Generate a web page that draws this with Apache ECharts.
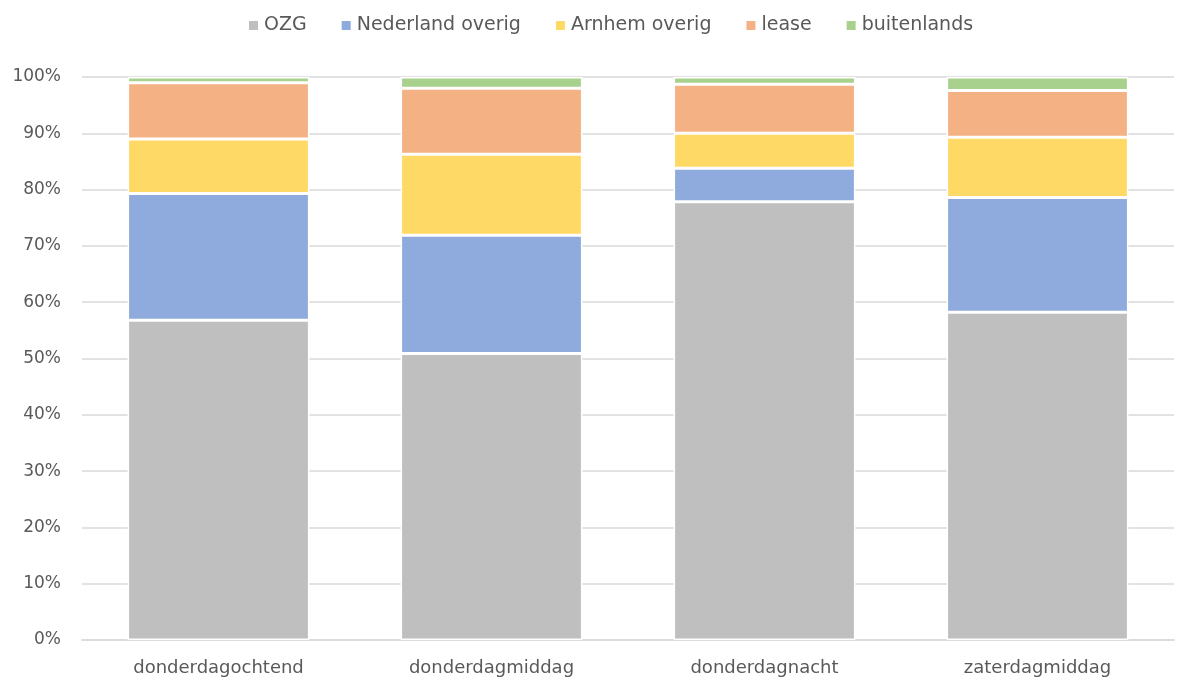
<!DOCTYPE html>
<html>
<head>
<meta charset="utf-8">
<script src="https://cdn.jsdelivr.net/npm/echarts@6/dist/echarts.min.js"></script>
<style>html,body{margin:0;padding:0;background:#fff}#c{width:1177px;height:681px}</style>
</head>
<body>
<div id="c"></div>
<script>
const categories = ['donderdagochtend', 'donderdagmiddag', 'donderdagnacht', 'zaterdagmiddag'];
const seriesNames = ['OZG', 'Nederland overig', 'Arnhem overig', 'lease', 'buitenlands'];
const ozg = [56.8, 50.9, 77.85, 58.2];
const nederlandOverig = [22.5, 21.0, 5.95, 20.4];
const arnhemOverig = [9.7, 14.4, 6.2, 10.7];
const lease = [10.0, 11.7, 8.7, 8.3];
const buitenlands = [1.0, 2.0, 1.3, 2.4];
const yTicks = [0, 10, 20, 30, 40, 50, 60, 70, 80, 90, 100];

const colors = ['#BFBFBF', '#8FAADC', '#FFD966', '#F4B183', '#A9D18E'];
const values = [ozg, nederlandOverig, arnhemOverig, lease, buitenlands];
const font = 'DejaVu Sans';

const chart = echarts.init(document.getElementById('c'));
chart.setOption({
  animation: false,
  color: colors,
  legend: {
    top: 11,
    left: 242,
    itemWidth: 11,
    itemHeight: 11,
    itemGap: 33,
    icon: 'rect',
    textStyle: { fontFamily: font, fontSize: 19, color: '#595959' },
    data: seriesNames
  },
  grid: { left: 82, right: 3, top: 77, bottom: 41, containLabel: false },
  xAxis: {
    type: 'category',
    data: categories,
    axisLine: { lineStyle: { color: '#D9D9D9', width: 1.5 } },
    axisTick: { show: false },
    axisLabel: { fontFamily: font, fontSize: 18, color: '#595959', margin: 19 }
  },
  yAxis: {
    type: 'value',
    min: 0,
    max: 100,
    interval: 10,
    axisLine: { show: false },
    axisTick: { show: false },
    splitLine: { lineStyle: { color: '#D9D9D9', width: 1.5 } },
    axisLabel: {
      fontFamily: font, fontSize: 17, color: '#595959', margin: 21,
      formatter: v => yTicks.includes(v) ? v + '%' : ''
    }
  },
  series: seriesNames.map((name, i) => ({
    name,
    type: 'bar',
    stack: 'total',
    barWidth: '66.6%',
    data: values[i],
    itemStyle: { borderColor: '#ffffff', borderWidth: 1.5 }
  }))
});
</script>
</body>
</html>
